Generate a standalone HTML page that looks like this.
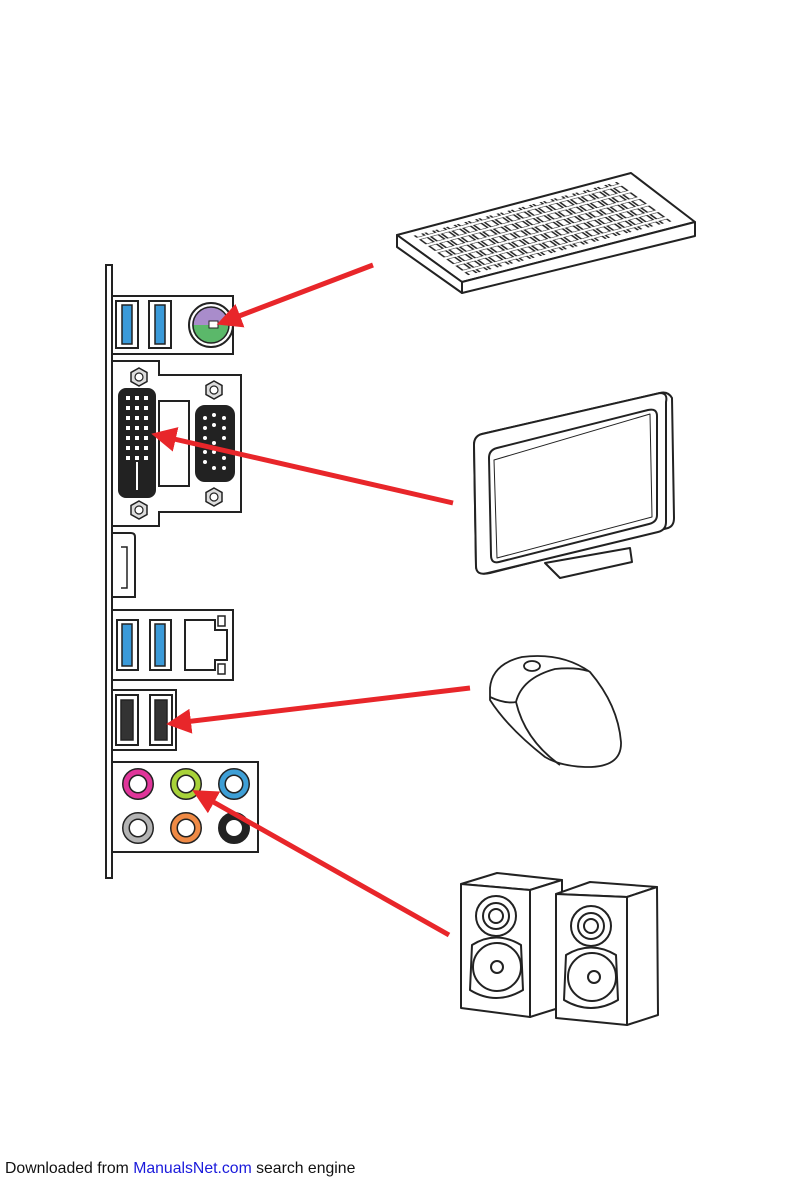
<!DOCTYPE html>
<html><head><meta charset="utf-8"><style>
html,body{margin:0;padding:0;background:#fff;width:794px;height:1191px;overflow:hidden}
svg{position:absolute;left:0;top:0}
.ft{position:absolute;left:5px;top:1160px;font:15.8px "Liberation Sans",sans-serif;color:#111;white-space:nowrap}
.ft span{color:#1a1adb}
</style></head><body>
<svg width="794" height="1191" viewBox="0 0 794 1191">
<defs>
<pattern id="keys" width="4.6" height="14" patternUnits="userSpaceOnUse">
<rect width="4.6" height="14" fill="#fff"/>
<rect x="0.7" y="2.5" width="3.2" height="9.5" fill="none" stroke="#222" stroke-width="0.8"/>
</pattern>
<marker id="ah" markerWidth="5" markerHeight="5" refX="3" refY="2.5" orient="auto" markerUnits="strokeWidth">
<path d="M0,0 L5,2.5 L0,5 Z" fill="#e8262a"/>
</marker>
</defs>
<g fill="none" stroke="#222" stroke-width="2">
<rect x="106" y="265" width="6" height="613" fill="#fff"/>
<path d="M112 296 H233 V354 H112"/>
<rect x="116" y="301" width="22" height="47"/><rect x="122" y="305" width="10" height="39" fill="#3a9ad9" stroke-width="1.5"/>
<rect x="149" y="301" width="22" height="47"/><rect x="155" y="305" width="10" height="39" fill="#3a9ad9" stroke-width="1.5"/>
<circle cx="211" cy="325" r="22"/>
<path d="M192 325 A18 18 0 0 1 229 325 Z" fill="#a98ccb" stroke="none"/>
<path d="M192 325 A18 18 0 0 0 229 325 Z" fill="#5bb86a" stroke="none"/>
<circle cx="211" cy="325" r="18" stroke-width="1.5"/>
<rect x="209" y="321" width="9" height="7" fill="#fff" stroke-width="1"/>
<path d="M112 361 H159 V375 H241 V512 H159 V526 H112"/>
<rect x="119" y="389" width="36" height="108" rx="7" fill="#222"/>
<line x1="137" y1="462" x2="137" y2="490" stroke="#fff" stroke-width="2"/>
<rect x="159" y="401" width="30" height="85"/>
<rect x="196" y="406" width="38" height="75" rx="9" fill="#222"/>
<path d="M112 533 H131 Q135 533 135 537 V597 H112"/>
<path d="M121 547 H127 V588 H121" stroke-width="1.5"/>
<path d="M112 610 H233 V680 H112"/>
<rect x="117" y="620" width="21" height="50"/><rect x="122" y="624" width="10" height="42" fill="#3a9ad9" stroke-width="1.5"/>
<rect x="150" y="620" width="21" height="50"/><rect x="155" y="624" width="10" height="42" fill="#3a9ad9" stroke-width="1.5"/>
<path d="M185 620 H215 V630 H227 V660 H215 V670 H185 Z"/>
<rect x="218" y="616" width="7" height="10" stroke-width="1.5"/><rect x="218" y="664" width="7" height="10" stroke-width="1.5"/>
<path d="M112 690 H176 V750 H112"/>
<rect x="116" y="695" width="22" height="50"/><rect x="121" y="700" width="12" height="40" fill="#333" stroke-width="1.5"/>
<rect x="150" y="695" width="22" height="50"/><rect x="155" y="700" width="12" height="40" fill="#333" stroke-width="1.5"/>
<path d="M112 762 H258 V852 H112"/>
<circle cx="138" cy="784" r="12" stroke="#222" stroke-width="8"/><circle cx="138" cy="784" r="12" stroke="#e0359a" stroke-width="5"/>
<circle cx="186" cy="784" r="12" stroke="#222" stroke-width="8"/><circle cx="186" cy="784" r="12" stroke="#a8d23a" stroke-width="5"/>
<circle cx="234" cy="784" r="12" stroke="#222" stroke-width="8"/><circle cx="234" cy="784" r="12" stroke="#3e9fd6" stroke-width="5"/>
<circle cx="138" cy="828" r="12" stroke="#222" stroke-width="8"/><circle cx="138" cy="828" r="12" stroke="#b4b4b4" stroke-width="5"/>
<circle cx="186" cy="828" r="12" stroke="#222" stroke-width="8"/><circle cx="186" cy="828" r="12" stroke="#ef8a45" stroke-width="5"/>
<circle cx="234" cy="828" r="12" stroke="#222" stroke-width="8"/>
</g>
<g fill="#fff">
<rect x="126" y="396" width="4" height="4"/><rect x="135" y="396" width="4" height="4"/><rect x="144" y="396" width="4" height="4"/>
<rect x="126" y="406" width="4" height="4"/><rect x="135" y="406" width="4" height="4"/><rect x="144" y="406" width="4" height="4"/>
<rect x="126" y="416" width="4" height="4"/><rect x="135" y="416" width="4" height="4"/><rect x="144" y="416" width="4" height="4"/>
<rect x="126" y="426" width="4" height="4"/><rect x="135" y="426" width="4" height="4"/><rect x="144" y="426" width="4" height="4"/>
<rect x="126" y="436" width="4" height="4"/><rect x="135" y="436" width="4" height="4"/><rect x="144" y="436" width="4" height="4"/>
<rect x="126" y="446" width="4" height="4"/><rect x="135" y="446" width="4" height="4"/><rect x="144" y="446" width="4" height="4"/>
<rect x="126" y="456" width="4" height="4"/><rect x="135" y="456" width="4" height="4"/><rect x="144" y="456" width="4" height="4"/>
<circle cx="205" cy="418" r="2"/><circle cx="214" cy="415" r="2"/><circle cx="224" cy="418" r="2"/>
<circle cx="205" cy="428" r="2"/><circle cx="214" cy="425" r="2"/><circle cx="224" cy="428" r="2"/>
<circle cx="205" cy="438" r="2"/><circle cx="214" cy="443" r="2"/><circle cx="224" cy="438" r="2"/>
<circle cx="205" cy="452" r="2"/><circle cx="214" cy="452" r="2"/><circle cx="224" cy="458" r="2"/>
<circle cx="205" cy="462" r="2"/><circle cx="214" cy="468" r="2"/><circle cx="224" cy="468" r="2"/>
</g>
<g fill="#ddd" stroke="#222" stroke-width="1.5">
<polygon points="139,368 147,372.5 147,381.5 139,386 131,381.5 131,372.5"/>
<polygon points="139,501 147,505.5 147,514.5 139,519 131,514.5 131,505.5"/>
<polygon points="214,381 222,385.5 222,394.5 214,399 206,394.5 206,385.5"/>
<polygon points="214,488 222,492.5 222,501.5 214,506 206,501.5 206,492.5"/>
</g>
<g fill="#fff" stroke="#222" stroke-width="1.2">
<circle cx="139" cy="377" r="4"/><circle cx="139" cy="510" r="4"/><circle cx="214" cy="390" r="4"/><circle cx="214" cy="497" r="4"/>
</g>
<g stroke="#222" stroke-width="2" fill="#fff" stroke-linejoin="round">
<polygon points="397,235 631,173 695,222 462,282"/>
<polygon points="397,235 462,282 462,293 397,247"/>
<polygon points="462,282 695,222 695,236 462,293"/>
</g>
<g transform="matrix(2.34,-0.62,0.65,0.47,397,235)">
<rect x="4.6" y="8" width="87.4" height="84" fill="url(#keys)"/>
</g>
<g stroke="#222" stroke-width="2" fill="#fff" stroke-linejoin="round">
<path d="M545 563 L630 548 L632 562 L560 578 Z"/>
<path d="M474 445 Q474 436 482 434 L660 393 Q668 391 672 398 L674 518 Q674 526 668 528 L490 573 Q476 576 476 566 Z"/>
<path d="M474 445 Q474 436 482 434 L660 393 Q668 393 666 402 L666 522 Q666 530 658 532 L488 573 Q476 576 476 566 Z"/>
<path d="M489 458 Q489 450 497 448 L648 410 Q657 408 657 416 L657 515 Q657 522 649 524 L499 562 Q491 564 491 555 Z"/>
<path d="M494 460 L650 414 L652 517 L497 558 Z" stroke-width="1"/>
</g>
<g stroke="#222" stroke-width="1.8" fill="#fff" stroke-linejoin="round">
<path d="M490 688 Q492 664 522 657 Q562 652 590 672 Q618 705 621 742 Q622 768 585 767 Q560 766 545 757 Q508 728 490 700 Z"/>
<path d="M490 697 Q505 704 516 702 Q522 678 555 669 Q575 667 588 671" fill="none"/>
<path d="M516 702 Q525 740 560 765" fill="none"/>
<ellipse cx="532" cy="666" rx="8" ry="5"/>
</g>
<g stroke="#222" stroke-width="2" fill="#fff" stroke-linejoin="round">
<polygon points="461,884 497,873 562,880 530,890"/>
<polygon points="530,890 562,880 562,1007 530,1017"/>
<polygon points="461,884 530,890 530,1017 461,1008"/>
<circle cx="496" cy="916" r="20"/><circle cx="496" cy="916" r="13"/><circle cx="496" cy="916" r="7"/>
<path d="M472 945 Q496 930 521 945 L523 990 Q496 1006 470 990 Z"/>
<circle cx="497" cy="967" r="24"/><circle cx="497" cy="967" r="6"/>
<polygon points="556,894 590,882 657,887 627,897"/>
<polygon points="627,897 657,887 658,1015 627,1025"/>
<polygon points="556,894 627,897 627,1025 556,1018"/>
<circle cx="591" cy="926" r="20"/><circle cx="591" cy="926" r="13"/><circle cx="591" cy="926" r="7"/>
<path d="M566 955 Q591 940 616 955 L618 1000 Q591 1016 564 1000 Z"/>
<circle cx="592" cy="977" r="24"/><circle cx="594" cy="977" r="6"/>
</g>
<g stroke="#e8262a" stroke-width="5" fill="none" marker-end="url(#ah)">
<line x1="373" y1="265" x2="226" y2="321"/>
<line x1="453" y1="503" x2="161" y2="436"/>
<line x1="470" y1="688" x2="176" y2="723"/>
<line x1="449" y1="935" x2="201" y2="795"/>
</g>
</svg>
<div class="ft">Downloaded from <span>ManualsNet.com</span> search engine</div>
</body></html>
